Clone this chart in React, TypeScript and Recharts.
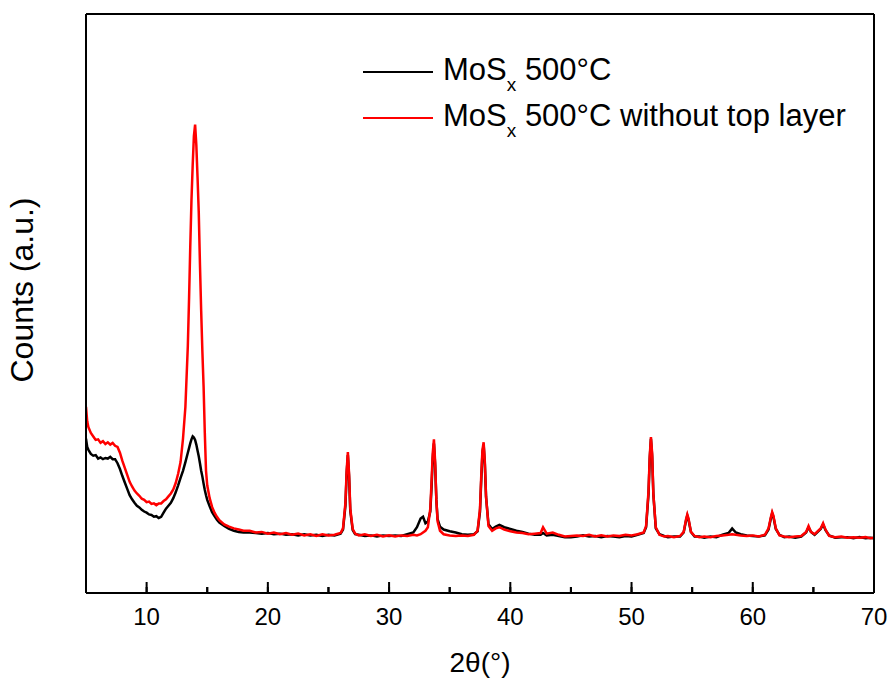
import { LineChart, Line, XAxis, YAxis, Legend } from "recharts";

const angles = [
  5.0, 5.1, 5.2, 5.4, 5.6, 5.8, 6.0, 6.2, 6.4, 6.6,
  6.8, 7.0, 7.2, 7.4, 7.6, 7.8, 8.0, 8.2, 8.4, 8.6,
  8.8, 9.0, 9.2, 9.4, 9.6, 9.8, 10.0, 10.2, 10.4, 10.6,
  10.8, 11.0, 11.2, 11.4, 11.6, 11.8, 12.0, 12.2, 12.4, 12.6,
  12.8, 13.0, 13.2, 13.4, 13.5, 13.6, 13.7, 13.8, 13.9, 14.0,
  14.1, 14.2, 14.3, 14.4, 14.5, 14.6, 14.7, 14.8, 14.9, 15.0,
  15.2, 15.4, 15.6, 15.8, 16.0, 16.4, 16.8, 17.2, 17.6, 18.0,
  18.5, 19, 19.5, 20, 20.5, 21, 21.5, 22, 22.5, 23,
  23.5, 24, 24.5, 25, 25.5, 26, 26.2, 26.4, 26.5, 26.6,
  26.7, 26.8, 27, 27.2, 27.5, 28, 28.5, 29, 29.5, 30,
  30.5, 31, 31.5, 32, 32.3, 32.6, 32.8, 33, 33.2, 33.4,
  33.5, 33.6, 33.7, 33.8, 33.9, 34.0, 34.2, 34.5, 35, 35.5,
  36, 36.5, 37, 37.3, 37.5, 37.6, 37.7, 37.8, 37.9, 38.0,
  38.2, 38.5, 38.8, 39.1, 39.5, 40, 40.5, 41, 41.5, 42,
  42.5, 42.7, 43, 43.5, 44, 44.5, 45, 45.5, 46, 46.5,
  47, 47.5, 48, 48.5, 49, 49.5, 50, 50.5, 51, 51.2,
  51.4, 51.5, 51.6, 51.7, 51.8, 52, 52.3, 52.7, 53, 53.5,
  54, 54.3, 54.5, 54.6, 54.7, 54.9, 55.2, 55.6, 56, 56.5,
  57, 57.5, 58, 58.3, 58.6, 59, 59.5, 60, 60.5, 61,
  61.3, 61.5, 61.6, 61.7, 61.9, 62.2, 62.6, 63, 63.5, 64,
  64.4, 64.6, 64.8, 65.1, 65.6, 65.8, 66.0, 66.3, 66.8, 67.3,
  67.8, 68.3, 68.8, 69.3, 69.7, 70,
];

// MoSx 500°C
const blackCounts = [
  27, 25.6, 25.1, 24.4, 24.1, 24.2, 23.6, 23.8, 23.5, 23.7,
  23.6, 23.9, 23.5, 23.5, 22.8, 21.8, 20.6, 19.5, 18.4, 17.3,
  16.6, 16, 15.5, 15.2, 14.8, 14.5, 14.3, 14, 13.9, 13.6,
  13.7, 13.4, 13.6, 14.3, 15, 15.5, 16, 16.8, 17.8, 19,
  20.3, 21.5, 23, 24.6, 25.4, 26.2, 26.9, 27.4, 27.2, 26.8,
  26, 25, 24, 22.8, 21.5, 20.5, 19.3, 18.2, 17.3, 16.5,
  15.4, 14.4, 13.7, 13.1, 12.6, 12, 11.5, 11.2, 11, 10.9,
  10.9, 10.8, 10.7, 10.8, 10.6, 10.7, 10.5, 10.6, 10.4, 10.6,
  10.4, 10.5, 10.3, 10.5, 10.4, 10.7, 11.4, 15.5, 21, 24.2,
  20.5, 14.6, 11.3, 10.6, 10.5, 10.3, 10.4, 10.2, 10.4, 10.3,
  10.4, 10.3, 10.6, 10.9, 11.8, 13.3, 13.6, 12.5, 12.8, 14.5,
  18.5, 23.5, 26.2, 22.5, 16.5, 13.2, 11.9, 11.4, 11.1, 10.9,
  10.6, 10.5, 10.6, 11.1, 14.5, 19.8, 24.5, 26, 22.6, 17,
  12.3, 11.5, 11.9, 12.2, 11.8, 11.5, 11.2, 11.0, 10.7, 10.5,
  10.5, 10.8, 10.4, 10.5, 10.3, 10.1, 10.1, 10.2, 10.4, 10.2,
  10.3, 10.1, 10.3, 10.2, 10.1, 10.3, 10.2, 10.5, 10.8, 11.8,
  17.5, 23.5, 27, 24, 17.5, 11.6, 10.6, 10.3, 10.1, 10.2,
  10.2, 10.9, 13, 13.8, 13.1, 11, 10.2, 10.2, 10, 10.2,
  10.1, 10.5, 10.8, 11.6, 10.9, 10.6, 10.4, 10.3, 10.2, 10.4,
  11.4, 13.4, 14.2, 13.6, 11.5, 10.5, 10.1, 10.2, 10, 10.2,
  10.9, 11.8, 11, 10.5, 11.5, 12.3, 11.3, 10.4, 10, 10.1,
  10.1, 9.9, 10.1, 9.9, 10, 9.9,
];

// MoSx 500°C without top layer
const redCounts = [
  32.5, 30, 29, 28, 27.4, 26.8, 26.9, 26.3, 26.6, 26.1,
  26.4, 26, 26.3, 25.8, 25.6, 24.6, 23.2, 22, 20.8, 19.6,
  18.8, 18.1, 17.6, 17.2, 16.7, 16.5, 16.1, 16.2, 15.8, 15.9,
  15.6, 15.9, 15.9, 16.3, 16.6, 17.1, 17.6, 18.3, 19.4, 21,
  23, 27, 32.5, 43, 51, 60, 68, 74, 79, 81,
  77.5, 72, 66, 57, 49, 42, 36, 28, 21.5, 19,
  16.8, 15.3, 14.3, 13.6, 13, 12.3, 11.9, 11.6, 11.4, 11.2,
  11.2, 10.9, 11.0, 10.7, 10.9, 10.6, 10.8, 10.5, 10.7, 10.4,
  10.6, 10.3, 10.6, 10.4, 10.5, 10.8, 11.6, 16, 21.5, 24.7,
  21, 15, 11.5, 10.7, 10.4, 10.6, 10.3, 10.5, 10.2, 10.4,
  10.2, 10.4, 10.3, 10.5, 10.4, 10.6, 10.9, 11.2, 11.8, 15,
  19.5, 24.5, 26.9, 23, 16.5, 12.8, 11.2, 10.6, 10.4, 10.3,
  10.4, 10.3, 10.5, 11.2, 15, 20.5, 25, 26.4, 23, 17,
  12, 11.2, 11.6, 11.8, 11.4, 11.1, 10.9, 10.8, 10.6, 10.7,
  10.8, 11.8, 10.7, 10.9, 10.5, 10.2, 10.3, 10.4, 10.3, 10.5,
  10.2, 10.4, 10.2, 10.4, 10.3, 10.5, 10.4, 10.6, 10.9, 12,
  18, 24, 27.3, 24.5, 17.5, 11.8, 10.5, 10.2, 10.3, 10.1,
  10.3, 11, 13.2, 14, 13.3, 11, 10.3, 10.1, 10.2, 10.1,
  10.3, 10.4, 10.5, 10.6, 10.5, 10.4, 10.3, 10.4, 10.2, 10.5,
  11.6, 13.6, 14.4, 13.8, 11.6, 10.4, 10.2, 10.1, 10.2, 10.3,
  11, 12, 11, 10.6, 11.6, 12.5, 11.4, 10.3, 10.1, 10.2,
  10, 10.1, 10, 10.1, 9.9, 10,
];

const xTicks = [10, 15, 20, 25, 30, 35, 40, 45, 50, 55, 60, 65, 70];

const seriesNames = ["500°C", "500°C without top layer"];
const seriesColors = ["#000000", "#ff0000"];

const data = angles.map((a, i) => ({
  angle: a,
  black: blackCounts[i],
  red: redCounts[i],
}));

const FONT = "'Liberation Sans', Arial, sans-serif";
const AXIS_Y = 593; // bottom edge of the plot frame
const Y_DOMAIN = [0.5, 100];

function AngleTick(props: any) {
  const { x, payload } = props;
  const major = payload.value % 10 === 0;
  const len = major ? 11 : 6;
  return (
    <g>
      <rect x={x - 1} y={AXIS_Y - len} width={2} height={len} fill="#000" />
      {major && (
        <text x={x} y={AXIS_Y + 32} textAnchor="middle" fontSize={24} fontFamily={FONT} fill="#000">
          {payload.value}
        </text>
      )}
    </g>
  );
}

function LegendBox() {
  return (
    <div style={{ fontFamily: FONT, fontSize: 31, color: "#000" }}>
      {seriesNames.map((name, i) => (
        <div key={name} style={{ display: "flex", alignItems: "center", height: 46, whiteSpace: "nowrap" }}>
          <span style={{ display: "inline-block", width: 70, height: 2, background: seriesColors[i], marginRight: 10 }} />
          <span style={{ lineHeight: "46px" }}>
            MoS<span style={{ fontSize: 19, position: "relative", top: 11 }}>x</span> {name}
          </span>
        </div>
      ))}
    </div>
  );
}

export default function App() {
  return (
    <div style={{ position: "absolute", left: 0, top: 0, background: "#fff" }}>
      <LineChart width={892} height={686} data={data} margin={{ top: 13, right: 17, bottom: 0, left: 84 }}>
        <XAxis
          dataKey="angle"
          type="number"
          domain={[5, 70]}
          ticks={xTicks}
          interval={0}
          allowDataOverflow
          height={93}
          tickSize={-6}
          tickMargin={0}
          tickLine={{ stroke: "#000", strokeWidth: 2 }}
          tick={<AngleTick />}
          axisLine={{ stroke: "#000", strokeWidth: 2 }}
          label={{
            content: (p: any) => (
              <text
                x={p.viewBox.x + p.viewBox.width / 2}
                y={AXIS_Y + 79}
                textAnchor="middle"
                fontSize={28}
                fontFamily={FONT}
                fill="#000"
              >
                2θ(°)
              </text>
            ),
          }}
        />
        <XAxis
          xAxisId="top"
          dataKey="angle"
          type="number"
          domain={[5, 70]}
          orientation="top"
          height={1}
          tick={false}
          tickLine={false}
          axisLine={{ stroke: "#000", strokeWidth: 2 }}
        />
        <YAxis
          type="number"
          domain={Y_DOMAIN}
          allowDataOverflow
          width={2}
          tick={false}
          tickLine={false}
          axisLine={{ stroke: "#000", strokeWidth: 2 }}
          label={{
            content: () => (
              <text
                x={33}
                y={290}
                transform="rotate(-90, 33, 290)"
                textAnchor="middle"
                fontSize={32}
                fontFamily={FONT}
                fill="#000"
              >
                Counts (a.u.)
              </text>
            ),
          }}
        />
        <YAxis
          yAxisId="right"
          orientation="right"
          type="number"
          domain={Y_DOMAIN}
          width={1}
          tick={false}
          tickLine={false}
          axisLine={{ stroke: "#000", strokeWidth: 2 }}
        />
        <Legend
          layout="vertical"
          align="center"
          verticalAlign="middle"
          content={() => <LegendBox />}
          wrapperStyle={{ top: 49, left: 363, width: "auto" }}
        />
        <Line
          dataKey="black"
          type="linear"
          stroke={seriesColors[0]}
          strokeWidth={2.5}
          dot={false}
          isAnimationActive={false}
        />
        <Line
          dataKey="red"
          type="linear"
          stroke={seriesColors[1]}
          strokeWidth={2.5}
          dot={false}
          isAnimationActive={false}
        />
      </LineChart>
    </div>
  );
}
